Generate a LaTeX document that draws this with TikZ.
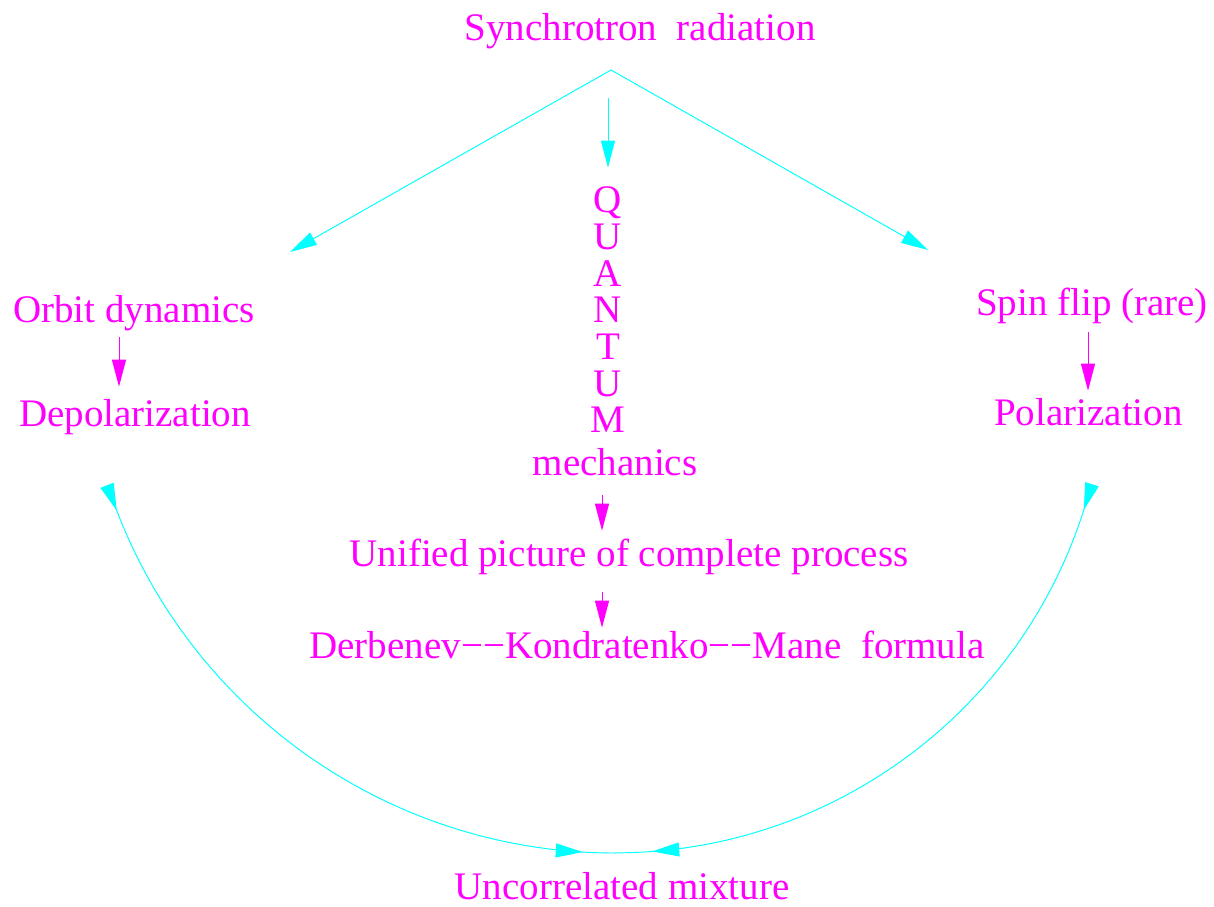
\documentclass[tikz,border=0pt]{standalone}
\usepackage{fontspec}
\setmainfont{Liberation Serif}
\usetikzlibrary{arrows.meta,decorations.markings}
\definecolor{qmag}{RGB}{255,0,255}
\definecolor{qcyan}{RGB}{0,255,255}

\begin{document}
\begin{tikzpicture}[
    txt/.style={text=qmag, font=\fontsize{22.2}{26}\selectfont, inner sep=0pt, text height=0.55cm, text depth=0.17cm, anchor=base},
    cyarr/.style={color=qcyan, line width=0.55pt, -{Triangle[length=0.54cm, width=0.28cm]}},
    magarr/.style={color=qmag, line width=0.55pt, -{Triangle[length=0.54cm, width=0.28cm]}},
    flow/.style 2 args={color=qcyan, line width=0.55pt, postaction={decorate},
        decoration={markings,
            mark=at position #1 with {\arrow{Triangle[length=0.54cm, width=0.28cm]}},
            mark=at position #2 with {\arrow{Triangle[length=0.54cm, width=0.28cm]}}}}
]
    \useasboundingbox (0,0) rectangle (24.28,18.12);

    % text
    \node[txt] (synch) at (12.80,17.30) {Synchrotron\ \ radiation};
    \node[txt] (orbit) at (2.68,11.66) {Orbit dynamics};
    \node[txt] (depol) at (2.70,9.58) {Depolarization};
    \node[txt] (spin) at (21.84,11.80) {Spin flip (rare)};
    \node[txt] (pol) at (21.77,9.60) {Polarization};
    \foreach \l [count=\i] in {Q,U,A,N,T,U,M}
        \node[txt] (q\i) at ({12.16},{13.86-0.733*(\i-1)}) {\l};
    \node[txt] (mech) at (12.30,8.60) {mechanics};
    \node[txt] (unified) at (12.58,6.79) {Unified picture of complete process};
    \node[txt] (dkm) at (12.94,4.95) {Derbenev−−Kondratenko−−Mane\ \ formula};
    \node[txt, text depth=0pt] (mix) at (12.44,0.14) {Uncorrelated mixture};

    % cyan arrows from the top
    \coordinate (apex) at (12.22,16.72);
    \coordinate (toOrbit) at (5.80,13.08);
    \coordinate (toSpin) at (18.56,13.12);
    \draw[cyarr] (apex) -- (toOrbit);
    \draw[cyarr] (apex) -- (toSpin);
    \draw[cyarr, shorten <=0.97cm, shorten >=0.35cm] (q1 |- synch.south) -- (q1.north);

    % magenta arrows
    \draw[magarr, shorten <=0.11cm, shorten >=0.25cm] ([xshift=-0.3cm]orbit.south) -- ([xshift=-0.3cm]orbit.south |- depol.north);
    \draw[magarr, shorten <=0.15cm, shorten >=0.15cm] ([xshift=-0.08cm]spin.south) -- ([xshift=-0.08cm]spin.south |- pol.north);
    \draw[magarr, shorten <=0.21cm, shorten >=0.16cm] ([xshift=-0.26cm]mech.south) -- ([xshift=-0.26cm]mech.south |- unified.north);
    \draw[magarr, shorten <=0.34cm, shorten >=0.06cm] ([xshift=-0.54cm]unified.south) -- ([xshift=-0.54cm]unified.south |- dkm.north);

    % arcs down to the mixture
    \coordinate (arcL) at (2.16,8.40);
    \coordinate (arcR) at (21.82,8.42);
    \draw[flow={0.52cm}{12.73cm}] (arcL) arc[start angle=198.2, end angle=270, radius=10.674cm];
    \draw[flow={0.52cm}{12.20cm}] (arcR) arc[start angle=345.4, end angle=270, radius=9.836cm];
\end{tikzpicture}
\end{document}
